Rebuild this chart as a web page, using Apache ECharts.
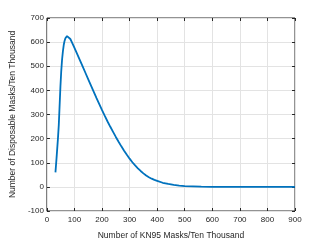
<!DOCTYPE html>
<html>
<head>
<meta charset="utf-8">
<script src="https://cdn.jsdelivr.net/npm/echarts@6/dist/echarts.min.js"></script>
<style>
  html, body { margin: 0; padding: 0; background: #fff; }
  #chart { width: 327px; height: 245px; }
</style>
</head>
<body>
<div id="chart"></div>
<script>
// KN95 masks (ten thousand) vs disposable masks (ten thousand)
const kn95 = [31, 35, 40, 43, 46, 49, 52, 55, 58, 61, 64, 67, 70, 73, 76, 80, 85, 90, 100, 110, 120, 130, 140, 150, 160, 170, 180, 190, 200, 210, 220, 230, 240, 250, 260, 270, 280, 290, 300, 310, 320, 330, 340, 350, 360, 370, 380, 390, 400, 420, 440, 460, 480, 500, 530, 560, 600, 700, 800, 900]
const disposable = [60, 120, 200, 255, 335, 415, 480, 528, 562, 588, 605, 616, 622, 625, 626, 622, 613, 601, 576, 550, 524, 498, 472, 446, 420, 394, 368, 343, 318, 294, 271, 249, 228, 207, 187, 168, 150, 133, 117, 102, 89, 77, 66, 56, 47, 40, 34, 29, 25, 17, 12, 8, 5, 3, 2, 1, 0, 0, 0, 0]
const xTicks = [0, 100, 200, 300, 400, 500, 600, 700, 800, 900]
const yTicks = [-100, 0, 100, 200, 300, 400, 500, 600, 700]

const textColor = '#262626'
const fontFamily = 'Liberation Sans, Arial, sans-serif'

const chart = echarts.init(document.getElementById('chart'))

const mirrorAxis = {
  axisLine: { show: false, onZero: false },
  axisTick: { show: true, inside: true, length: 3, lineStyle: { color: textColor } },
  axisLabel: { show: false },
  splitLine: { show: false }
}

const option = {
  animation: false,
  grid: {
    left: 42,
    right: 32,
    top: 18,
    bottom: 28,
    show: true,
    borderColor: textColor,
    borderWidth: 1
  },
  xAxis: [
    {
      type: 'value',
      min: xTicks[0],
      max: xTicks[xTicks.length - 1],
      interval: 100,
      name: 'Number of KN95 Masks/Ten Thousand',
      nameLocation: 'middle',
      nameGap: 20,
      nameTextStyle: { fontFamily, fontSize: 8.5, color: textColor },
      axisLine: { show: false, onZero: false },
      axisTick: { inside: true, length: 3, lineStyle: { color: textColor } },
      axisLabel: { fontFamily, fontSize: 8, color: textColor, margin: 5 },
      splitLine: { lineStyle: { color: '#e3e3e3', width: 1 } }
    },
    Object.assign({ type: 'value', position: 'top', min: 0, max: 900, interval: 100 }, mirrorAxis)
  ],
  yAxis: [
    {
      type: 'value',
      min: yTicks[0],
      max: yTicks[yTicks.length - 1],
      interval: 100,
      name: 'Number of Disposable Masks/Ten Thousand',
      nameLocation: 'middle',
      nameGap: 20,
      nameTextStyle: { fontFamily, fontSize: 8.5, color: textColor },
      axisLine: { show: false, onZero: false },
      axisTick: { inside: true, length: 3, lineStyle: { color: textColor } },
      axisLabel: { fontFamily, fontSize: 8, color: textColor, margin: 3 },
      splitLine: { lineStyle: { color: '#e3e3e3', width: 1 } }
    },
    Object.assign({ type: 'value', position: 'right', min: -100, max: 700, interval: 100 }, mirrorAxis)
  ],
  series: [
    {
      type: 'line',
      xAxisIndex: 0,
      yAxisIndex: 0,
      data: kn95.map((x, i) => [x, disposable[i]]),
      smooth: false,
      showSymbol: false,
      lineStyle: { color: '#0072BD', width: 1.8 }
    }
  ]
}

chart.setOption(option)
</script>
</body>
</html>
